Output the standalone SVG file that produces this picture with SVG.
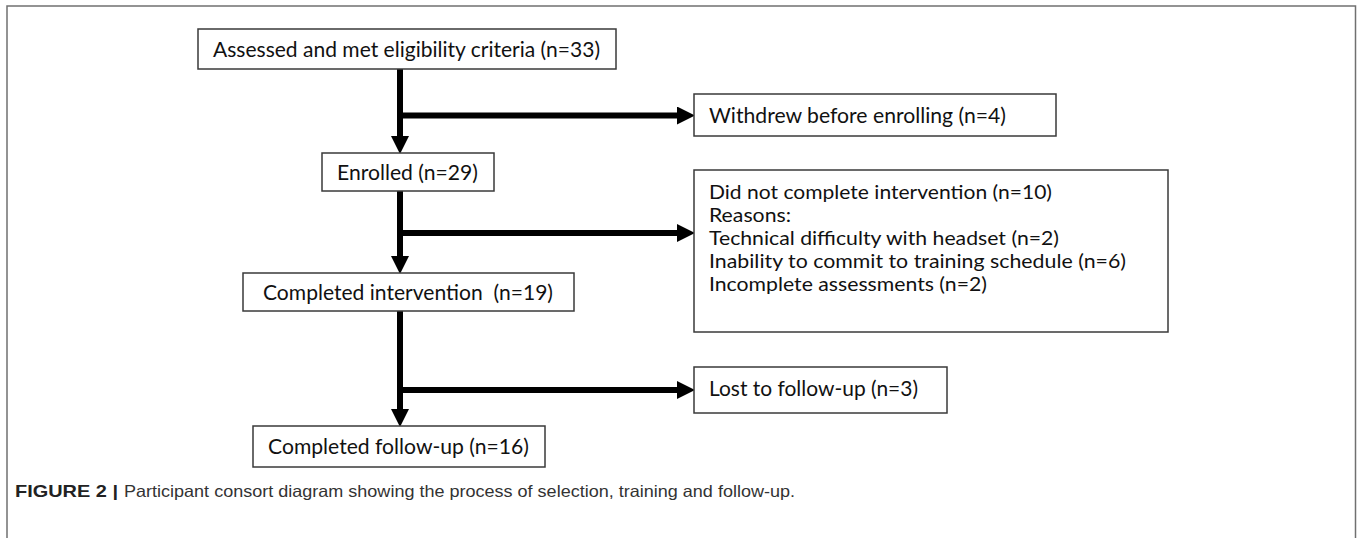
<svg xmlns="http://www.w3.org/2000/svg" width="1358" height="538" viewBox="0 0 1358 538">
  <style>
    .box { fill: #ffffff; stroke: #3a3a3a; stroke-width: 1.5; }
    .t { font-family: Lato, "Open Sans", "Liberation Sans", sans-serif; font-size: 21px; fill: #111111; }
    .ts { font-family: Lato, "Open Sans", "Liberation Sans", sans-serif; font-size: 19px; fill: #111111; }
    .conn { stroke: #000000; stroke-width: 6; fill: none; }
    .cap { font-family: "Liberation Sans", Arial, sans-serif; font-size: 16.5px; fill: #333333; }
    .capb { font-family: "Liberation Sans", Arial, sans-serif; font-size: 16.5px; font-weight: bold; fill: #222222; }
  </style>
  <defs>
    <marker id="ah" markerUnits="userSpaceOnUse" markerWidth="18" markerHeight="18" viewBox="0 0 17 17" refX="0" refY="8.5" orient="auto">
      <path d="M0,0 L17,8.5 L0,17 z" fill="#000000"/>
    </marker>
  </defs>

  <rect x="7" y="6" width="1348.5" height="600" fill="#ffffff" stroke="#707070" stroke-width="1.5"/>

  <g id="connectors">
    <line class="conn" x1="400" y1="69" x2="400" y2="136" marker-end="url(#ah)"/>
    <line class="conn" x1="397" y1="115.5" x2="677" y2="115.5" marker-end="url(#ah)"/>
    <line class="conn" x1="400" y1="191" x2="400" y2="256" marker-end="url(#ah)"/>
    <line class="conn" x1="397" y1="233" x2="677" y2="233" marker-end="url(#ah)"/>
    <line class="conn" x1="400" y1="311" x2="400" y2="409" marker-end="url(#ah)"/>
    <line class="conn" x1="397" y1="390" x2="677" y2="390" marker-end="url(#ah)"/>
  </g>

  <g id="node-assessed">
    <rect class="box" x="198" y="29" width="418" height="40"/>
    <text class="t" x="213" y="57" textLength="387" lengthAdjust="spacingAndGlyphs">Assessed and met eligibility criteria (n=33)</text>
  </g>

  <g id="node-withdrew">
    <rect class="box" x="694" y="94" width="362" height="42"/>
    <text class="t" x="709" y="123" textLength="297" lengthAdjust="spacingAndGlyphs">Withdrew before enrolling (n=4)</text>
  </g>

  <g id="node-enrolled">
    <rect class="box" x="322" y="153" width="172" height="38"/>
    <text class="t" x="337" y="180" textLength="141" lengthAdjust="spacingAndGlyphs">Enrolled (n=29)</text>
  </g>

  <g id="node-notcomplete">
    <rect class="box" x="694" y="170" width="474" height="162"/>
    <text class="ts" x="709" y="199" textLength="343" lengthAdjust="spacingAndGlyphs">Did not complete intervention (n=10)</text>
    <text class="ts" x="709" y="222" textLength="82" lengthAdjust="spacingAndGlyphs">Reasons:</text>
    <text class="ts" x="709" y="245" textLength="350" lengthAdjust="spacingAndGlyphs">Technical difficulty with headset (n=2)</text>
    <text class="ts" x="709" y="268" textLength="417" lengthAdjust="spacingAndGlyphs">Inability to commit to training schedule (n=6)</text>
    <text class="ts" x="709" y="291" textLength="278" lengthAdjust="spacingAndGlyphs">Incomplete assessments (n=2)</text>
  </g>

  <g id="node-completed-intervention">
    <rect class="box" x="243" y="273" width="331" height="38"/>
    <text class="t" x="263" y="300" textLength="290" lengthAdjust="spacingAndGlyphs" xml:space="preserve">Completed intervention  (n=19)</text>
  </g>

  <g id="node-lost">
    <rect class="box" x="694" y="367" width="253" height="46"/>
    <text class="t" x="709" y="396" textLength="209" lengthAdjust="spacingAndGlyphs">Lost to follow-up (n=3)</text>
  </g>

  <g id="node-completed-followup">
    <rect class="box" x="253" y="426" width="292" height="41"/>
    <text class="t" x="268" y="454" textLength="261" lengthAdjust="spacingAndGlyphs">Completed follow-up (n=16)</text>
  </g>

  <g id="caption">
    <text class="capb" x="15" y="497" textLength="103" lengthAdjust="spacingAndGlyphs">FIGURE 2 |</text>
    <text class="cap" x="124" y="497" textLength="671" lengthAdjust="spacingAndGlyphs">Participant consort diagram showing the process of selection, training and follow-up.</text>
  </g>
</svg>
